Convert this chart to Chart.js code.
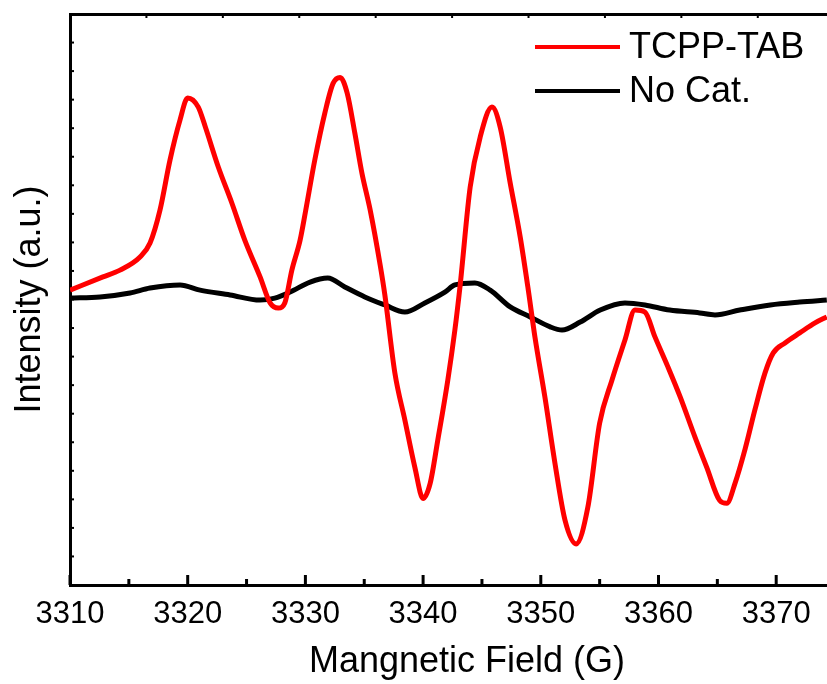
<!DOCTYPE html>
<html>
<head>
<meta charset="utf-8">
<script src="https://cdn.jsdelivr.net/npm/chart.js@4.4.1/dist/chart.umd.min.js"></script>
<style>
  html, body { margin: 0; padding: 0; background: #fff; }
  #wrap { width: 827px; height: 684px; overflow: hidden; position: relative; }
  canvas { display: block; }
</style>
</head>
<body>
<div id="wrap"><canvas id="epr" width="866" height="684"></canvas></div>
<script>
// values (field in G, intensity in arbitrary units)
const fieldTCPP = [3310.0, 3312.8, 3314.25, 3315.95, 3316.8, 3317.65, 3318.5, 3319.35, 3320.0, 3320.9,
  3321.5, 3322.6, 3323.75, 3324.85, 3326.15, 3327.0, 3327.7, 3328.25, 3328.85, 3329.55,
  3330.0, 3330.8, 3331.65, 3332.35, 3332.95, 3333.55, 3334.2, 3334.8, 3335.5, 3336.35, 3336.75,
  3337.6, 3338.45, 3339.3, 3340.0, 3340.6, 3341.25, 3342.1, 3342.7, 3343.15, 3344.0,
  3344.85, 3345.85, 3346.55, 3347.4, 3348.25, 3348.9, 3349.5, 3350.35, 3351.2, 3352.05,
  3353.0, 3354.0, 3355.0, 3356.05, 3357.15, 3358.0, 3358.85, 3359.7, 3360.8, 3361.85,
  3363.1, 3364.1, 3365.2, 3365.8, 3366.5, 3367.35, 3368.2, 3369.05, 3369.75, 3370.75,
  3372.0, 3373.3, 3374.3];
const intensityTCPP = [0.33, 0.79, 1.03, 1.49, 1.98, 3.14, 4.89, 6.29, 7.06, 6.74,
  6.04, 4.64, 3.38, 2.08, 0.79, -0.12, -0.30, -0.12, 1.03, 2.08,
  3.06, 4.89, 6.53, 7.57, 7.78, 7.23, 5.83, 4.43, 3.14, 1.21, 0.16,
  -2.57, -4.22, -5.88, -6.97, -6.44, -4.92, -2.82, -1.07, 0.51, 3.94,
  5.69, 6.74, 6.04, 4.08, 2.19, 0.44, -1.31, -3.42, -5.73, -7.72,
  -8.56, -7.27, -4.33, -2.82, -1.42, -0.37, -0.44, -1.31, -2.36, -3.42,
  -4.82, -5.88, -7.04, -7.14, -6.44, -5.25, -3.85, -2.57, -1.87, -1.52,
  -1.17, -0.82, -0.61];

const fieldNoCat = [3310.0, 3312.55, 3315.1, 3316.8, 3319.35, 3321.05, 3323.6, 3326.15, 3327.4, 3328.7,
  3330.4, 3331.9, 3333.35, 3335.05, 3336.75, 3338.45, 3340.15, 3341.85, 3342.7, 3344.4,
  3345.7, 3347.4, 3349.1, 3350.8, 3351.8, 3353.35, 3355.05, 3357.15, 3358.85, 3360.95,
  3363.5, 3364.8, 3366.9, 3369.5, 3372.0, 3374.3];
const intensityNoCat = [0.05, 0.09, 0.23, 0.40, 0.51, 0.33, 0.16, -0.02, 0.05, 0.26,
  0.61, 0.75, 0.44, 0.09, -0.19, -0.44, -0.12, 0.26, 0.51, 0.58,
  0.33, -0.26, -0.61, -0.96, -1.07, -0.79, -0.37, -0.12, -0.19, -0.37,
  -0.47, -0.54, -0.37, -0.19, -0.09, -0.02];

const seriesLabels = ["TCPP-TAB", "No Cat."];
const seriesColors = ["#ff0000", "#000000"];

const FONT = "'Liberation Sans', Arial, sans-serif";

const toPoints = (xs, ys) => xs.map((x, i) => ({ x: x, y: ys[i] }));

// inward tick marks like the original plot
const innerTicks = {
  id: "innerTicks",
  afterDraw(chart) {
    const { ctx, chartArea: a, scales } = chart;
    ctx.save();
    ctx.strokeStyle = "#000";
    // bottom axis: major every 10, minor every 5
    for (let v = scales.x.min; v <= scales.x.max; v += 5) {
      const px = scales.x.getPixelForValue(v);
      const len = (v - scales.x.min) % 10 === 0 ? 10 : 6;
      ctx.lineWidth = 3;
      ctx.beginPath();
      ctx.moveTo(px, a.bottom);
      ctx.lineTo(px, a.bottom - len);
      ctx.stroke();
    }
    // left axis: small ticks
    ctx.lineWidth = 2;
    for (let v = scales.y.min + 1; v < scales.y.max; v += 1) {
      const py = scales.y.getPixelForValue(v);
      ctx.beginPath();
      ctx.moveTo(a.left, py);
      ctx.lineTo(a.left + 4, py);
      ctx.stroke();
    }
    // top axis: small ticks
    for (let v = 1; v <= scales.x2.max; v += 1) {
      const px = scales.x2.getPixelForValue(v);
      ctx.beginPath();
      ctx.moveTo(px, a.top);
      ctx.lineTo(px, a.top + 4);
      ctx.stroke();
    }
    ctx.restore();
  }
};

// legend drawn inside the plot, top right
const insideLegend = {
  id: "insideLegend",
  afterDraw(chart) {
    const { ctx } = chart;
    ctx.save();
    ctx.font = "36px " + FONT;
    ctx.textBaseline = "middle";
    ctx.textAlign = "left";
    chart.data.datasets.forEach((ds, i) => {
      const y = 47 + i * 44;
      ctx.strokeStyle = ds.borderColor;
      ctx.lineWidth = 4;
      ctx.beginPath();
      ctx.moveTo(535, y);
      ctx.lineTo(620, y);
      ctx.stroke();
      ctx.fillStyle = "#000";
      ctx.fillText(ds.label, 629, y + 1);
    });
    ctx.restore();
  }
};

new Chart(document.getElementById("epr"), {
  type: "scatter",
  data: {
    datasets: [
      {
        label: seriesLabels[0],
        data: toPoints(fieldTCPP, intensityTCPP),
        borderColor: seriesColors[0],
        backgroundColor: seriesColors[0],
        borderWidth: 5,
        showLine: true,
        pointRadius: 0,
        cubicInterpolationMode: "monotone",
      },
      {
        label: seriesLabels[1],
        data: toPoints(fieldNoCat, intensityNoCat),
        borderColor: seriesColors[1],
        backgroundColor: seriesColors[1],
        borderWidth: 5,
        showLine: true,
        pointRadius: 0,
        cubicInterpolationMode: "monotone",
      },
    ],
  },
  options: {
    responsive: false,
    animation: false,
    layout: { padding: { top: 14, left: 0, right: 2, bottom: 0 } },
    plugins: {
      legend: { display: false },
      tooltip: { enabled: false },
    },
    scales: {
      x: {
        type: "linear",
        position: "bottom",
        min: 3310,
        max: 3377.46,
        grid: { display: false, drawTicks: false },
        border: { display: true, color: "#000", width: 3 },
        ticks: {
          stepSize: 10,
          includeBounds: false,
          padding: 11,
          color: "#000",
          font: { family: FONT, size: 31 },
          callback: (v) => String(v),
        },
        title: {
          display: true,
          text: "Mangnetic Field (G)",
          color: "#000",
          font: { family: FONT, size: 36 },
          padding: { top: 0, bottom: 0 },
        },
        afterFit: (scale) => { scale.height = 99; },
      },
      x2: {
        type: "linear",
        position: "top",
        min: 0,
        max: 10.39,
        grid: { display: false, drawTicks: false },
        border: { display: true, color: "#000", width: 3 },
        ticks: { display: false },
        afterFit: (scale) => { scale.height = 0; },
      },
      y: {
        type: "linear",
        min: -10,
        max: 10,
        grid: { display: false, drawTicks: false },
        border: { display: true, color: "#000", width: 3 },
        ticks: { display: false, stepSize: 1 },
        title: {
          display: true,
          text: "Intensity (a.u.)",
          color: "#000",
          font: { family: FONT, size: 36 },
          padding: { top: 8, bottom: 0 },
        },
        afterFit: (scale) => { scale.width = 70; },
      },
    },
  },
  plugins: [innerTicks, insideLegend],
});
</script>
</body>
</html>
